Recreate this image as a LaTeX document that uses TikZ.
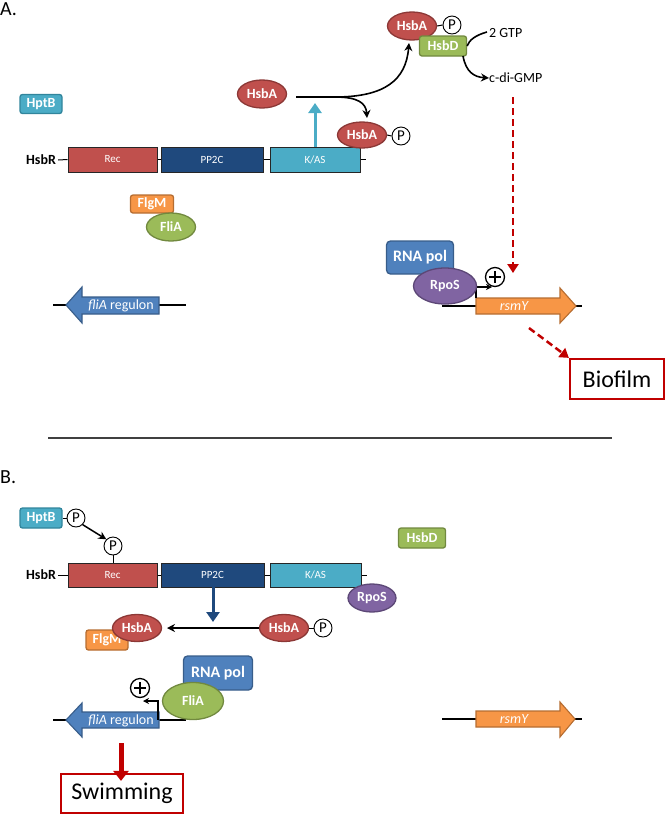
\documentclass[tikz,border=0pt]{standalone}
\usepackage{fontspec}
\setmainfont{Carlito}
\usetikzlibrary{shapes.geometric,arrows.meta}
\definecolor{cred}{HTML}{C0504D}
\definecolor{credd}{HTML}{8C3836}
\definecolor{cnavy}{HTML}{1F497D}
\definecolor{cteal}{HTML}{4BACC6}
\definecolor{ctealD}{HTML}{31859C}
\definecolor{cgreen}{HTML}{9BBB59}
\definecolor{cgreenD}{HTML}{71893F}
\definecolor{corange}{HTML}{F79646}
\definecolor{corangeD}{HTML}{B66D31}
\definecolor{cblue}{HTML}{4F81BD}
\definecolor{cblueD}{HTML}{385D8A}
\definecolor{cpurple}{HTML}{8064A2}
\definecolor{cpurpleD}{HTML}{5C4776}
\definecolor{dred}{HTML}{C00000}
\tikzset{
  pbox/.style={rectangle, rounded corners=2.5pt, line width=1.3pt, text=white, font=\bfseries\fontsize{14}{14}\selectfont, inner sep=0pt},
  pell/.style={ellipse, line width=1.3pt, text=white, font=\bfseries\fontsize{14}{14}\selectfont, inner sep=0pt},
  dom/.style={rectangle, draw=black!85, line width=1pt, text=white, font=\fontsize{11}{11}\selectfont, minimum height=25pt, inner sep=0pt},
  phos/.style={circle, draw, line width=0.9pt, fill=white, inner sep=0pt, minimum size=18pt, font=\fontsize{15}{15}\selectfont},
  plusc/.style={circle, draw, line width=1.3pt, fill=white, minimum size=19pt, inner sep=0pt},
  lbl/.style={font=\fontsize{14}{14}\selectfont, inner sep=0pt},
  hsbr/.style={font=\bfseries\fontsize{14}{14}\selectfont, inner sep=0pt},
  outbox/.style={rectangle, draw=dred, line width=2.2pt, fill=white, font=\fontsize{24}{24}\selectfont, inner sep=0pt},
  gtxt/.style={text=white, font=\fontsize{14}{14}\selectfont, inner sep=0pt},
  blk/.style={line width=1.6pt, -{Stealth[length=8pt,width=8pt]}},
  dna/.style={line width=1.3pt},
}
\begin{document}
\begin{tikzpicture}[x=1pt,y=-1pt]
\useasboundingbox (0,0) rectangle (666,815);

% ---------------- Panel A ----------------
\node[anchor=base west, inner sep=0pt, font=\fontsize{20}{20}\selectfont] (labA) at (0,15) {A.};

\node[pbox, fill=cteal, draw=ctealD, minimum width=42pt, minimum height=19pt] (hptbA) at (41,104) {HptB};

\node[hsbr] (hsbrA) at (41,160) {HsbR};
\node[dom, fill=cred, minimum width=89pt] (recA) at (112.5,159.5) {Rec};
\node[dom, fill=cnavy, minimum width=102pt] (pp2cA) at (212,159.5) {PP2C};
\node[dom, fill=cteal, minimum width=90pt] (kasA) at (315,159.5) {K/AS};
\draw[line width=1pt] (hsbrA.east) ++(2,0) -- (recA.west);
\draw[line width=1pt] (recA.east) -- (pp2cA.west);
\draw[line width=1pt] (pp2cA.east) -- (kasA.west);
\coordinate (kasAend) at (366,159.5);
\draw[line width=1pt] (kasA.east) -- (kasAend);

\node[pell, fill=cred, draw=credd, minimum width=49pt, minimum height=28pt] (hsbaA) at (262,94) {HsbA};

% cyan arrow from K/AS
\coordinate (cyanTip) at (315,103);
\draw[cteal, line width=3pt, -{Triangle[length=10pt,width=13pt]}] (kasA.north) -- (cyanTip);

% black branching arrows
\coordinate (brS) at (296,97);
\coordinate (brM) at (335,97);
\coordinate (upTip) at (409,43);
\coordinate (dnTip) at (367,118);
\draw[line width=1.6pt] (brS) -- (brM);
\draw[blk] (brM) .. controls (385,97) and (406,80) .. (upTip);
\draw[blk] (brM) .. controls (358,97) and (366,103) .. (dnTip);

\node[pell, fill=cred, draw=credd, minimum width=49pt, minimum height=26pt] (hsbaPA) at (362,135) {HsbA};
\node[phos] (pA1) at (401,136) {P};
\draw[line width=1pt] (hsbaPA.east) -- (pA1.west);

\node[pell, fill=cred, draw=credd, minimum width=49pt, minimum height=28pt] (hsbaPA2) at (412,26) {HsbA};
\node[phos] (pA2) at (452,25) {P};
\draw[line width=1pt] (hsbaPA2.east) -- (pA2.west);
\node[pbox, fill=cgreen, draw=cgreenD, minimum width=47pt, minimum height=20pt] (hsbdA) at (443,46) {HsbD};

\node[lbl, anchor=west] (gtp) at (489,33) {2 GTP};
\node[lbl, anchor=west] (cdg) at (489,78) {c-di-GMP};
\draw[line width=1.6pt] (gtp.west) ++(-2,-1) .. controls (476,35) and (469,40) .. (hsbdA.east);
\draw[blk] (463,56) .. controls (466,72) and (474,77) .. (cdg.west);

% red dashed to rsmY
\coordinate (rdTop) at (513,97);
\coordinate (rdTip) at (513,273);
\draw[dred, line width=2.5pt, dash pattern=on 7pt off 4pt, -{Triangle[length=9pt,width=11pt]}] (rdTop) -- (rdTip);

% rsmY gene A
\coordinate (dnaAs) at (442,306);
\coordinate (dnaAe) at (582,306);
\draw[dna] (dnaAs) -- (dnaAe);
\path[fill=corange, draw=corangeD, line width=1.1pt] (476,298) -- (560,298) -- (560,288) -- (576,306) -- (560,323) -- (560,314) -- (476,314) -- cycle;
\node[gtxt, font=\itshape\fontsize{14}{14}\selectfont] (rsmyA) at (514,306) {rsmY};
\coordinate (promA1) at (476,298);
\coordinate (promA2) at (476,287);
\coordinate (promA3) at (492,287);
\draw[line width=1.3pt, -{Stealth[length=6pt,width=6pt]}] (promA1) -- (promA2) -- (promA3);

\node[pbox, fill=cblue, draw=cblueD, minimum width=67pt, minimum height=33pt, font=\bfseries\fontsize{16}{16}\selectfont, rounded corners=4pt] (rnapA) at (420,257.5) {RNA pol};
\node[pell, fill=cpurple, draw=cpurpleD, minimum width=63pt, minimum height=36pt] (rposA) at (445,286) {RpoS};
\node[plusc] (plusA) at (495,277) {};
\draw[line width=1.5pt] (plusA.center) ++(-6,0) -- ++(12,0);
\draw[line width=1.5pt] (plusA.center) ++(0,-6) -- ++(0,12);

% biofilm
\coordinate (bfS) at (529,328);
\node[outbox, minimum width=94pt, minimum height=40pt] (biofilm) at (617,379) {Biofilm};
\draw[dred, line width=2.5pt, dash pattern=on 7pt off 4pt, -{Triangle[length=9pt,width=11pt]}] (bfS) -- (biofilm.north west);

% FlgM / FliA A
\node[pbox, fill=corange, draw=corangeD, minimum width=43pt, minimum height=18pt] (flgmA) at (152,204) {FlgM};
\node[pell, fill=cgreen, draw=cgreenD, minimum width=49pt, minimum height=28pt] (fliaA) at (171,227) {FliA};

% fliA regulon A
\coordinate (dnaA2s) at (53,305);
\coordinate (dnaA2e) at (186,305);
\draw[dna] (dnaA2s) -- (dnaA2e);
\path[fill=cblue, draw=cblueD, line width=1.1pt] (66,305) -- (82,287) -- (82,297) -- (159,297) -- (159,314) -- (82,314) -- (82,323) -- cycle;
\node[gtxt] (fliregA) at (121,305.5) {\textit{fliA} regulon};

% separator
\coordinate (sepL) at (48,438);
\coordinate (sepR) at (612,438);
\draw[black!75, line width=1.2pt] (sepL) -- (sepR);

% ---------------- Panel B ----------------
\node[anchor=base west, inner sep=0pt, font=\fontsize{20}{20}\selectfont] (labB) at (0,483) {B.};

\node[pbox, fill=cteal, draw=ctealD, minimum width=42pt, minimum height=20pt] (hptbB) at (41,518) {HptB};
\node[phos] (pB1) at (76,518) {P};
\draw[line width=1pt] (hptbB.east) -- (pB1.west);

\node[hsbr] (hsbrB) at (41,575) {HsbR};
\node[dom, fill=cred, minimum width=89pt, minimum height=24pt] (recB) at (112.5,575) {Rec};
\node[dom, fill=cnavy, minimum width=103pt, minimum height=24pt] (pp2cB) at (212.5,575) {PP2C};
\node[dom, fill=cteal, minimum width=91pt, minimum height=24pt] (kasB) at (315.5,575) {K/AS};
\draw[line width=1pt] (hsbrB.east) ++(2,0) -- (recB.west);
\draw[line width=1pt] (recB.east) -- (pp2cB.west);
\draw[line width=1pt] (pp2cB.east) -- (kasB.west);
\coordinate (kasBend) at (367,575);
\draw[line width=1pt] (kasB.east) -- (kasBend);

\node[phos] (pB2) at (113,546) {P};
\coordinate (stemB) at (113,563);
\draw[line width=1pt] (pB2.south) -- (stemB);
\draw[blk, line width=1.5pt] (pB1.south east) -- (pB2.north west);

\node[pbox, fill=cgreen, draw=cgreenD, minimum width=47pt, minimum height=20pt] (hsbdB) at (422,538) {HsbD};
\node[pell, fill=cpurple, draw=cpurpleD, minimum width=48pt, minimum height=28pt] (rposB) at (372,598) {RpoS};

% PP2C arrow
\coordinate (pp2cTip) at (213,622);
\draw[cnavy, line width=3pt, -{Triangle[length=10pt,width=13pt]}] (213,587) -- (pp2cTip);

\node[pell, fill=cred, draw=credd, minimum width=49pt, minimum height=27pt] (hsbaPB) at (284,628) {HsbA};
\node[phos] (pB3) at (323,628) {P};
\draw[line width=1pt] (hsbaPB.east) -- (pB3.west);

\node[pbox, fill=corange, draw=corangeD, minimum width=42pt, minimum height=20pt] (flgmB) at (107,640) {FlgM};
\node[pell, fill=cred, draw=credd, minimum width=49pt, minimum height=27pt] (hsbaB) at (137,628) {HsbA};
\coordinate (hArrTip) at (167,628);
\draw[blk] (hsbaPB.west) -- (hArrTip);

% fliA regulon B
\coordinate (dnaBs) at (53,720);
\coordinate (dnaBe) at (186,720);
\draw[dna] (dnaBs) -- (dnaBe);
\path[fill=cblue, draw=cblueD, line width=1.1pt] (66,720) -- (82,703) -- (82,712) -- (159,712) -- (159,728) -- (82,728) -- (82,737) -- cycle;
\node[gtxt] (fliregB) at (121,720.5) {\textit{fliA} regulon};
\coordinate (promB1) at (158,720);
\coordinate (promB2) at (158,701);
\coordinate (promB3) at (143,701);
\draw[line width=1.3pt, -{Stealth[length=6pt,width=6pt]}] (promB1) -- (promB2) -- (promB3);

\node[pbox, fill=cblue, draw=cblueD, minimum width=69pt, minimum height=34pt, font=\bfseries\fontsize{16}{16}\selectfont, rounded corners=4pt] (rnapB) at (218,673) {RNA pol};
\node[pell, fill=cgreen, draw=cgreenD, minimum width=61pt, minimum height=37pt] (fliaB) at (193,701) {FliA};
\node[plusc] (plusB) at (140,688) {};
\draw[line width=1.5pt] (plusB.center) ++(-6,0) -- ++(12,0);
\draw[line width=1.5pt] (plusB.center) ++(0,-6) -- ++(0,12);

% swimming
\coordinate (swS) at (121,743);
\node[outbox, minimum width=122pt, minimum height=39pt] (swim) at (122,793.5) {Swimming};
\draw[dred, line width=5pt, -{Triangle[length=10pt,width=15pt]}] (swS) -- ([yshift=-8pt]swim.north -| swS);

% rsmY gene B
\coordinate (dnaB2s) at (442,719);
\coordinate (dnaB2e) at (582,719);
\draw[dna] (dnaB2s) -- (dnaB2e);
\path[fill=corange, draw=corangeD, line width=1.1pt] (476,711) -- (560,711) -- (560,702) -- (575,719) -- (560,737) -- (560,727) -- (476,727) -- cycle;
\node[gtxt, font=\itshape\fontsize{14}{14}\selectfont] (rsmyB) at (514,719) {rsmY};

\end{tikzpicture}
\end{document}
